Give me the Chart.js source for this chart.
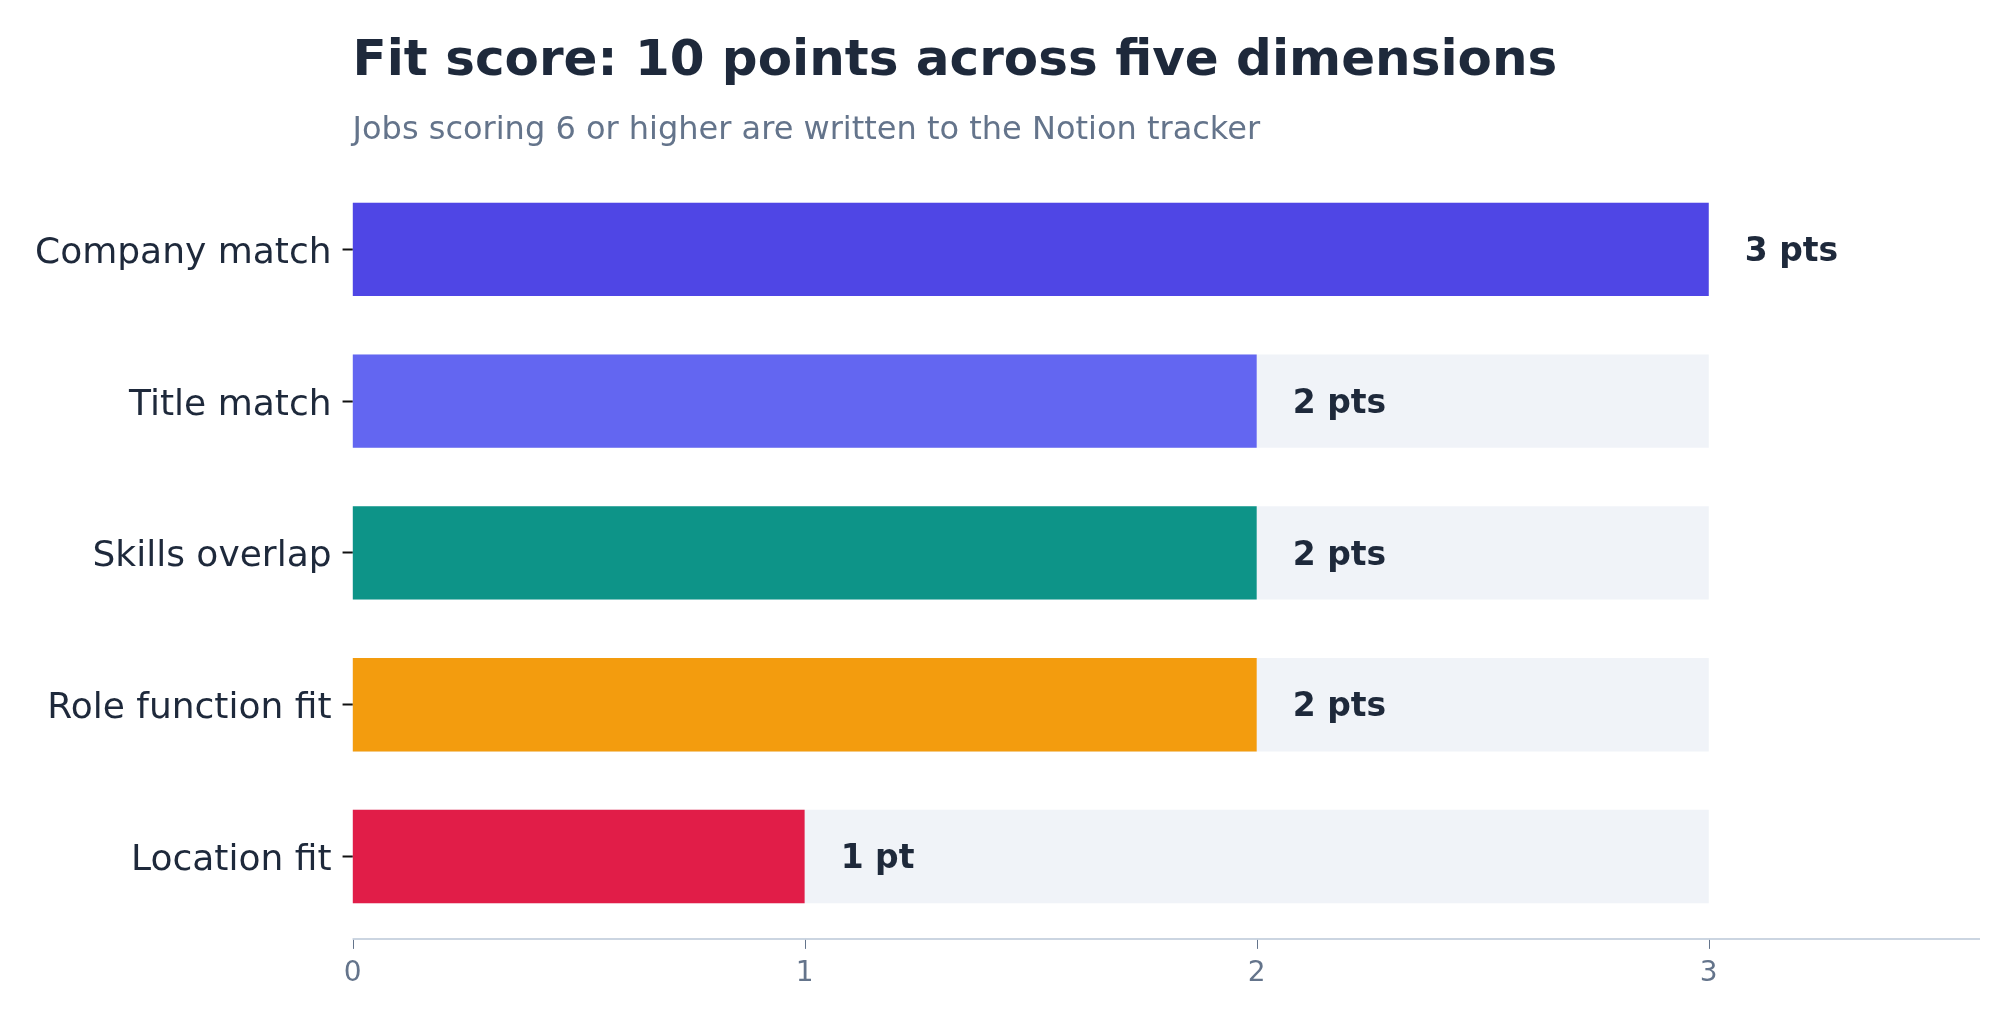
<!DOCTYPE html>
<html>
<head>
<meta charset="utf-8">
<script src="https://cdn.jsdelivr.net/npm/chart.js@4.4.1/dist/chart.umd.min.js"></script>
<style>
  html, body { margin: 0; padding: 0; background: #ffffff; }
  canvas { display: block; }
</style>
</head>
<body>
<canvas id="myChart" width="2016" height="1021"></canvas>
<script>
// Chart data
const dimensions = ['Company match', 'Title match', 'Skills overlap', 'Role function fit', 'Location fit'];
const points = [3, 2, 2, 2, 1];
const maxPoints = [3, 3, 3, 3, 3];
const valueLabels = ['3 pts', '2 pts', '2 pts', '2 pts', '1 pt'];
const barColors = ['#4f46e5', '#6366f1', '#0d9488', '#f39c0e', '#e11d48'];
const xTicks = [0, 1, 2, 3];

const titleText = 'Fit score: 10 points across five dimensions';
const subtitleText = 'Jobs scoring 6 or higher are written to the Notion tracker';

const FONT = '"DejaVu Sans", sans-serif';

// Title, subtitle, value labels and the detached x baseline
const decorPlugin = {
    id: 'decor',
    afterDraw(chart) {
        const ctx = chart.ctx;
        const area = chart.chartArea;
        const xScale = chart.scales.x;
        ctx.save();

        // title + subtitle, left aligned with the plot
        ctx.textAlign = 'left';
        ctx.textBaseline = 'alphabetic';
        ctx.fillStyle = '#1e293b';
        ctx.font = 'bold 50px ' + FONT;
        ctx.fillText(titleText, area.left, 75);
        ctx.fillStyle = '#64748b';
        ctx.font = '32px ' + FONT;
        ctx.fillText(subtitleText, area.left, 139);

        // value labels at the end of each score bar
        const meta = chart.getDatasetMeta(1);
        ctx.fillStyle = '#1e293b';
        ctx.font = 'bold 33px ' + FONT;
        ctx.textBaseline = 'middle';
        meta.data.forEach((bar, i) => {
            ctx.fillText(valueLabels[i], bar.x + 36, bar.y + 3);
        });

        // x axis line sits a little below the last band
        const lineY = area.bottom + 6.5;
        ctx.strokeStyle = '#cbd5e1';
        ctx.lineWidth = 2;
        ctx.beginPath();
        ctx.moveTo(area.left, lineY);
        ctx.lineTo(area.right, lineY);
        ctx.stroke();

        ctx.strokeStyle = '#64748b';
        ctx.lineWidth = 1;
        xTicks.forEach(v => {
            const px = Math.round(xScale.getPixelForValue(v)) + 0.5;
            ctx.beginPath();
            ctx.moveTo(px, lineY + 1);
            ctx.lineTo(px, lineY + 10);
            ctx.stroke();
        });
        ctx.restore();
    }
};

const ctx = document.getElementById('myChart').getContext('2d');
const myChart = new Chart(ctx, {
    type: 'bar',
    data: {
        labels: dimensions,
        datasets: [
            {
                label: 'Track',
                data: maxPoints,
                backgroundColor: '#f0f3f8',
                grouped: false,
                order: 2,
                barPercentage: 0.615,
                categoryPercentage: 1,
            },
            {
                label: 'Points',
                data: points,
                backgroundColor: barColors,
                grouped: false,
                order: 1,
                barPercentage: 0.615,
                categoryPercentage: 1,
            },
        ],
    },
    options: {
        indexAxis: 'y',
        responsive: false,
        animation: false,
        layout: {
            padding: { top: 173.5, left: 24, right: 36, bottom: 5 },
        },
        plugins: {
            legend: { display: false },
            tooltip: { enabled: false },
        },
        scales: {
            x: {
                type: 'linear',
                min: 0,
                max: 3.6,
                border: { display: false },
                grid: { display: false, drawTicks: false },
                ticks: {
                    stepSize: 1,
                    includeBounds: false,
                    padding: 25,
                    color: '#64748b',
                    font: { family: FONT, size: 28 },
                },
            },
            y: {
                border: { display: false },
                grid: {
                    display: true,
                    offset: false,
                    drawOnChartArea: false,
                    drawTicks: true,
                    tickLength: 10,
                    tickColor: '#111111',
                    tickWidth: 2,
                },
                ticks: {
                    padding: 11,
                    labelOffset: 4,
                    color: '#1e293b',
                    font: { family: FONT, size: 36 },
                },
            },
        },
    },
    plugins: [decorPlugin],
});
</script>
</body>
</html>
